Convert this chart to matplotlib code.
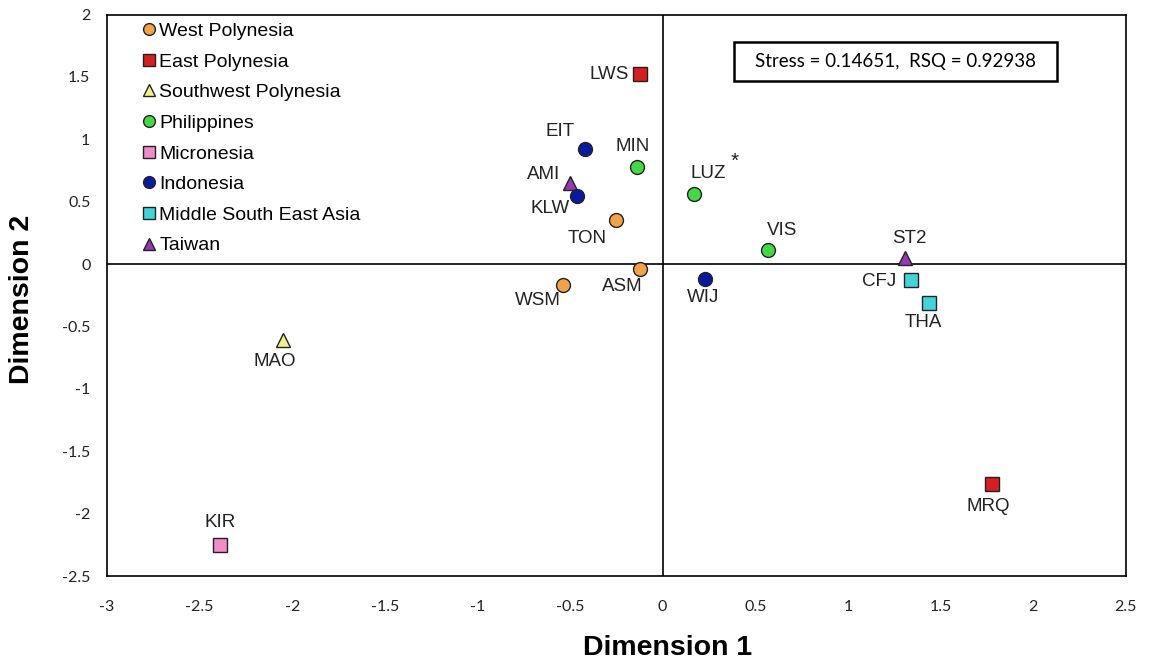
import matplotlib
matplotlib.use("Agg")
import matplotlib.pyplot as plt
from matplotlib.lines import Line2D
from matplotlib.patches import Rectangle

plt.rcParams['font.family'] = ['Liberation Sans', 'DejaVu Sans']

# groups: name, marker, colour
groups = ['West Polynesia', 'East Polynesia', 'Southwest Polynesia', 'Philippines',
          'Micronesia', 'Indonesia', 'Middle South East Asia', 'Taiwan']
group_markers = ['o', 's', '^', 'o', 's', 'o', 's', '^']
group_colors = ['#F0A44A', '#D42020', '#F2F08A', '#44D844',
                '#F08CC8', '#0A1AA0', '#44D4D8', '#9438B4']

# points
names = ['LWS', 'EIT', 'MIN', 'AMI', 'KLW', 'TON', 'LUZ', 'VIS', 'ASM', 'WSM',
         'WIJ', 'ST2', 'CFJ', 'THA', 'MAO', 'KIR', 'MRQ']
dim1 = [-0.12, -0.42, -0.14, -0.50, -0.46, -0.25, 0.17, 0.57, -0.12, -0.54,
        0.23, 1.31, 1.34, 1.44, -2.05, -2.39, 1.78]
dim2 = [1.52, 0.92, 0.78, 0.65, 0.55, 0.35, 0.56, 0.11, -0.04, -0.17,
        -0.12, 0.05, -0.13, -0.31, -0.61, -2.25, -1.76]
group_of = [1, 5, 3, 7, 5, 0, 3, 3, 0, 0,
            5, 7, 6, 6, 2, 4, 1]
# label offset in pixels (dx, dy) and alignment
label_pos = {
    'LWS': (-12, 0, 'right', 'center'),
    'EIT': (-10, 9, 'right', 'bottom'),
    'MIN': (-4, 12, 'center', 'bottom'),
    'AMI': (-10, 0, 'right', 'bottom'),
    'KLW': (-8, -4, 'right', 'top'),
    'TON': (-10, -10, 'right', 'top'),
    'LUZ': (14, 12, 'center', 'bottom'),
    'VIS': (14, 11, 'center', 'bottom'),
    'ASM': (-18, -9, 'center', 'top'),
    'WSM': (-25, -7, 'center', 'top'),
    'WIJ': (-2, -10, 'center', 'top'),
    'ST2': (4, 11, 'center', 'bottom'),
    'CFJ': (-15, -1, 'right', 'center'),
    'THA': (-6, -11, 'center', 'top'),
    'MAO': (-8, -13, 'center', 'top'),
    'KIR': (0, 14, 'center', 'bottom'),
    'MRQ': (-4, -14, 'center', 'top'),
}

fig = plt.figure(figsize=(11.51, 6.63), dpi=100)
ax = fig.add_axes([0.093, 0.131, 0.885, 0.847])

ax.axhline(0, color='black', lw=1.2, zorder=1)
ax.axvline(0, color='black', lw=1.2, zorder=1)

for i, n in enumerate(names):
    g = group_of[i]
    m = group_markers[g]
    ms = 10 if m == 'o' else (9.5 if m == 's' else 10.5)
    ax.plot(dim1[i], dim2[i], marker=m, ms=ms, color=group_colors[g],
            mec='#222222', mew=1.0, ls='none', zorder=3)
    dx, dy, ha, va = label_pos[n]
    ax.annotate(n, (dim1[i], dim2[i]), xytext=(dx * 0.72, dy * 0.72),
                textcoords='offset points', ha=ha, va=va, fontsize=13.5,
                color='#222222')

# asterisk next to LUZ
ax.annotate('*', (dim1[6], dim2[6]), xytext=(29, 17), textcoords='offset points',
            ha='center', va='bottom', fontsize=15, color='#222222')

ax.set_xlim(-3, 2.5)
ax.set_ylim(-2.5, 2)
ax.set_xticks([-3, -2.5, -2, -1.5, -1, -0.5, 0, 0.5, 1, 1.5, 2, 2.5])
ax.set_xticklabels(['-3', '-2.5', '-2', '-1.5', '-1', '-0.5', '0', '0.5', '1',
                    '1.5', '2', '2.5'])
ax.set_yticks([-2.5, -2, -1.5, -1, -0.5, 0, 0.5, 1, 1.5, 2])
ax.set_yticklabels(['-2.5', '-2', '-1.5', '-1', '-0.5', '0', '0.5', '1', '1.5', '2'])
ax.tick_params(length=0, labelsize=11.5, colors='#222222')
ax.tick_params(axis='x', pad=17)
ax.tick_params(axis='y', pad=12)
for lab in ax.get_xticklabels() + ax.get_yticklabels():
    lab.set_family(['Lato', 'DejaVu Sans'])
for sp in ax.spines.values():
    sp.set_linewidth(1.2)

ax.set_xlabel('Dimension 1', fontsize=20.5, fontweight='bold')
ax.set_ylabel('Dimension 2', fontsize=20.5, fontweight='bold')
ax.xaxis.set_label_coords(0.55, -0.104)
ax.yaxis.set_label_coords(-0.071, 0.492)

handles = [Line2D([], [], marker=group_markers[k], color=group_colors[k], mec='#222222',
                  mew=1.0, ls='none', ms=8.5) for k in range(len(groups))]
ax.legend(handles, groups, loc='upper left', bbox_to_anchor=(0.026, 1.0),
          frameon=False, fontsize=14, handlelength=0.8, handletextpad=0.12,
          labelspacing=0.67, borderaxespad=0)

# stress box
ax.add_patch(Rectangle((0.615, 0.881), 0.318, 0.071, transform=ax.transAxes,
                       fc='white', ec='black', lw=1.8, zorder=4))
ax.text(0.774, 0.916, 'Stress = 0.14651,  RSQ = 0.92938', transform=ax.transAxes,
        fontsize=13.5, family=['Lato', 'DejaVu Sans'], ha='center', va='center',
        zorder=5)

fig.savefig('out.png', dpi=100)
